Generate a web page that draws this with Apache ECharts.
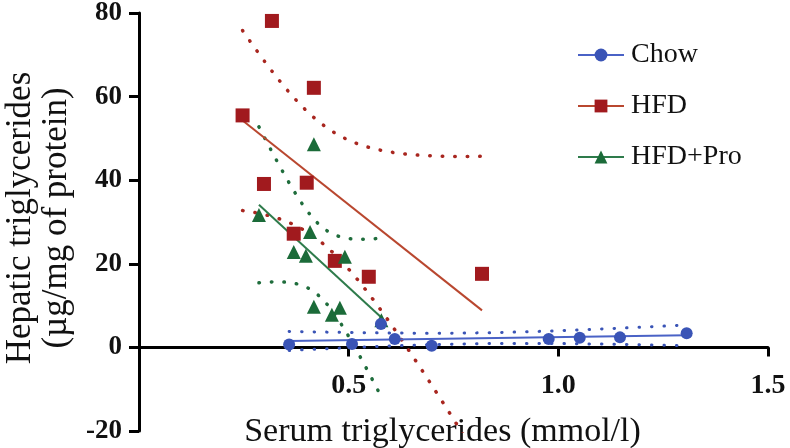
<!DOCTYPE html>
<html>
<head>
<meta charset="utf-8">
<script src="https://cdn.jsdelivr.net/npm/echarts@6/dist/echarts.min.js"></script>
<style>html,body{margin:0;padding:0;background:#fff}#c{width:790px;height:448px}</style>
</head>
<body>
<div id="c"></div>
<script>
// Data
const chowX = [0.358, 0.508, 0.577, 0.610, 0.698, 0.977, 1.051, 1.147, 1.306];
const chowY = [0.7, 0.8, 5.6, 2.0, 0.4, 2.0, 2.3, 2.4, 3.4];
const hfdX = [0.247, 0.317, 0.417, 0.298, 0.400, 0.369, 0.467, 0.548, 0.818];
const hfdY = [55.5, 78.1, 62.1, 39.1, 39.4, 27.2, 20.7, 16.9, 17.6];
const proX = [0.286, 0.417, 0.408, 0.369, 0.398, 0.491, 0.417, 0.460, 0.479, 0.578];
const proY = [31.7, 48.6, 27.6, 22.8, 21.9, 21.7, 9.7, 7.8, 9.5, 6.5];
const groupNames = ['Chow', 'HFD', 'HFD+Pro'];
const yTicks = [-20, 0, 20, 40, 60, 80];
const xTickLabels = ['0.5', '1.0', '1.5'];

// two-sided 95% t critical values by degrees of freedom
const T95 = {7: 2.3646, 8: 2.3060};

function fit(xs, ys) {
  const n = xs.length;
  const mx = xs.reduce((a, b) => a + b, 0) / n;
  const my = ys.reduce((a, b) => a + b, 0) / n;
  let sxx = 0, sxy = 0;
  for (let i = 0; i < n; i++) { sxx += (xs[i] - mx) ** 2; sxy += (xs[i] - mx) * (ys[i] - my); }
  const b = sxy / sxx, a = my - b * mx;
  let ssr = 0;
  for (let i = 0; i < n; i++) ssr += (ys[i] - a - b * xs[i]) ** 2;
  const s = Math.sqrt(ssr / (n - 2));
  const t = T95[n - 2];
  const x0 = Math.min(...xs), x1 = Math.max(...xs);
  const line = [[x0, a + b * x0], [x1, a + b * x1]];
  const up = [], lo = [];
  const steps = 60;
  for (let i = 0; i <= steps; i++) {
    const x = x0 + (x1 - x0) * i / steps;
    const h = t * s * Math.sqrt(1 / n + (x - mx) ** 2 / sxx);
    up.push([x, a + b * x + h]);
    lo.push([x, a + b * x - h]);
  }
  return {line, up, lo};
}

const groups = [
  {name: groupNames[0], xs: chowX, ys: chowY, symbol: 'circle', size: 12, mk: '#3a54b6', ln: '#4a62c6', dot: '#3a54b6', dw: 3},
  {name: groupNames[1], xs: hfdX, ys: hfdY, symbol: 'rect', size: 14, mk: '#a11a1e', ln: '#b9472f', dot: '#a8261f', dw: 3.5},
  {name: groupNames[2], xs: proX, ys: proY, symbol: 'triangle', size: 14, mk: '#1b6b39', ln: '#2e7b4b', dot: '#1f6d3c', dw: 3.5}
];

const series = [];
[1, 2, 0].forEach(gi => {
  const g = groups[gi];
  const f = fit(g.xs, g.ys);
  const dotted = {color: g.dot, width: g.dw, type: [0.5, 12], cap: 'round'};
  series.push({type: 'line', name: g.name + ' upper', data: f.up, symbol: 'none', lineStyle: dotted, silent: true, z: 2});
  series.push({type: 'line', name: g.name + ' lower', data: f.lo, symbol: 'none', lineStyle: dotted, silent: true, z: 2});
  series.push({type: 'line', name: g.name + ' fit', data: f.line, symbol: 'none', lineStyle: {color: g.ln, width: 2}, silent: true, z: 3});
});
[1, 2, 0].forEach(gi => {
  const g = groups[gi];
  series.push({
    type: 'line', name: g.name,
    data: g.xs.map((x, i) => [x, g.ys[i]]),
    symbol: g.symbol, symbolSize: g.size, showSymbol: true,
    itemStyle: {color: g.mk, opacity: 1},
    lineStyle: {opacity: 0, color: g.ln, width: 2},
    z: 5
  });
});

const chart = echarts.init(document.getElementById('c'));
chart.setOption({
  animation: false,
  backgroundColor: '#fff',
  grid: {left: 139, right: 22, top: 13, bottom: 17, containLabel: false, outerBoundsMode: 'none'},
  legend: {
    orient: 'vertical', left: 572, top: 36, itemGap: 23,
    itemWidth: 46, itemHeight: 16,
    data: groups.map(g => ({name: g.name, lineStyle: {opacity: 1, color: g.ln, width: 2}})),
    textStyle: {fontFamily: 'Liberation Serif', fontSize: 28, lineHeight: 28, color: '#111', padding: [0, 0, 0, 2]}
  },
  xAxis: {
    type: 'value', min: 0, max: 1.5, interval: 0.5,
    axisLine: {show: true, onZero: true, lineStyle: {color: '#000', width: 3}},
    axisTick: {show: true, length: 9, lineStyle: {color: '#000', width: 3}},
    splitLine: {show: false},
    axisLabel: {
      formatter: v => { const i = Math.round(v / 0.5) - 1; return i >= 0 ? xTickLabels[i] : ''; },
      fontFamily: 'Liberation Serif', fontWeight: 'bold', fontSize: 28, color: '#111', margin: -59
    },
    name: 'Serum triglycerides (mmol/l)', nameLocation: 'middle', nameGap: -16,
    nameTextStyle: {fontFamily: 'Liberation Serif', fontSize: 34, color: '#111', padding: [0, 22, 0, 0]}
  },
  yAxis: {
    type: 'value', min: yTicks[0], max: yTicks[yTicks.length - 1], interval: 20,
    axisLine: {show: true, lineStyle: {color: '#000', width: 3}},
    axisTick: {show: true, length: 10, lineStyle: {color: '#000', width: 3}},
    splitLine: {show: false},
    axisLabel: {fontFamily: 'Liberation Serif', fontWeight: 'bold', fontSize: 27, color: '#111', margin: 17},
    name: 'Hepatic triglycerides\n(µg/mg of protein)', nameLocation: 'middle', nameGap: 58,
    nameTextStyle: {fontFamily: 'Liberation Serif', fontSize: 35, lineHeight: 36, color: '#111', padding: [0, 0, 0, 8]}
  },
  series: series
});
</script>
</body>
</html>
